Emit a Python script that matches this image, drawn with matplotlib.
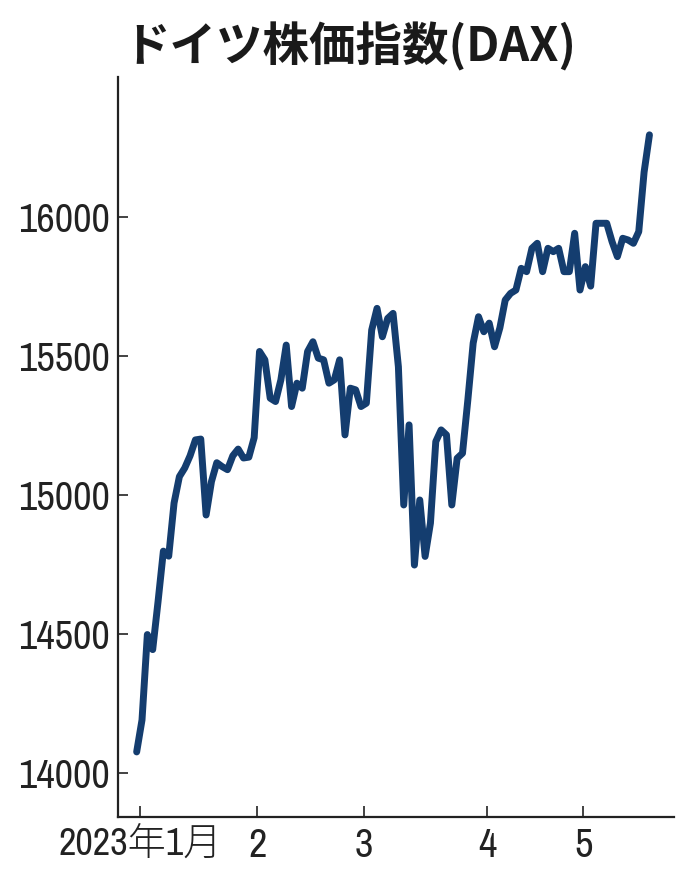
import matplotlib
matplotlib.use("Agg")
import matplotlib.pyplot as plt
from matplotlib import font_manager

# ---- data (DAX daily close, 2023-01-02 .. 2023-05-19, trading-day index) ----
jan = [14075, 14190, 14497, 14443, 14615, 14797, 14779, 14970, 15065, 15096,
       15140, 15197, 15200, 14927, 15047, 15115, 15101, 15090, 15140, 15164,
       15132, 15135]
feb = [15205, 15515, 15485, 15347, 15335, 15413, 15538, 15317, 15401, 15383,
       15515, 15550, 15491, 15485, 15401, 15413, 15485, 15215, 15383, 15377]
mar = [15317, 15329, 15592, 15670, 15568, 15634, 15652, 15460, 14963, 15251,
       14747, 14981, 14778, 14898, 15191, 15233, 15215, 14963, 15131, 15149,
       15340, 15545, 15640]
apr = [15586, 15617, 15532, 15600, 15700, 15724, 15736, 15814, 15802, 15886,
       15904, 15802, 15886, 15874, 15886, 15802, 15802, 15940]
may = [15736, 15820, 15750, 15976, 15976, 15976, 15910, 15856, 15922, 15916,
       15904, 15946, 16160, 16294]

values = jan + feb + mar + apr + may
x = list(range(len(values)))

month_labels = ["2023年1月", "2", "3", "4", "5"]
month_lengths = [len(jan), len(feb), len(mar), len(apr), len(may)]
ytick_values = [14000, 14500, 15000, 15500, 16000]
title = "ドイツ株価指数(DAX)"

month_starts = []
acc = 0
for n in month_lengths:
    month_starts.append(acc)
    acc += n

# ---- find a condensed font for tick labels ----
entries = font_manager.fontManager.ttflist
narrow_name = None
narrow_stretch = "normal"
for e in entries:
    if ("Narrow" in e.name or "Condensed" in e.name) and "Mono" not in e.name:
        narrow_name = e.name
        break
if narrow_name is None:
    for e in entries:
        if e.name == "DejaVu Sans" and str(e.stretch) in ("condensed", "semi-condensed", "75", "87.5") \
                and e.style == "normal":
            narrow_name = "DejaVu Sans"
            narrow_stretch = "condensed"
            break
if narrow_name is None:
    narrow_name = "Roboto"
tick_family = [narrow_name, "Noto Sans CJK JP"]
scale = 1.0 if narrow_name != "Roboto" else 0.82

fig = plt.figure(figsize=(6.96, 8.82), dpi=100)
ax = fig.add_axes([0.1695, 0.0737, 0.9684 - 0.1695, 0.9127 - 0.0737])

ax.plot(x, values, color="#143d6f", lw=5.0, solid_joinstyle="round",
        solid_capstyle="round")

ax.set_xlim(-3.5, 100.6)
ax.set_ylim(13841, 16502)

ax.set_yticks(ytick_values)
ax.set_yticklabels([str(v) for v in ytick_values])
ax.set_xticks([m + 0.6 for m in month_starts])
ax.set_xticklabels(month_labels)

for lab in ax.get_xticklabels() + ax.get_yticklabels():
    lab.set_family(tick_family)
    lab.set_stretch(narrow_stretch)
    lab.set_weight("light")
    lab.set_fontsize(29 * scale)
    lab.set_color("#222222")
ax.get_xticklabels()[0].set_fontsize(27.5 * scale)

ax.tick_params(axis="y", direction="in", length=7, width=1.2, pad=6, colors="#222222")
ax.tick_params(axis="x", direction="in", length=8, width=1.2, pad=7, colors="#222222")

for s in ["top", "right"]:
    ax.spines[s].set_visible(False)
for s in ["left", "bottom"]:
    ax.spines[s].set_linewidth(1.6)
    ax.spines[s].set_color("#222222")

fig.text(0.503, 0.947, title, ha="center", va="center", fontsize=33.5,
         fontweight="bold", family=["Noto Sans CJK JP", "DejaVu Sans"], color="#1a1a1a")

fig.savefig("out.png", dpi=100, facecolor="white")
